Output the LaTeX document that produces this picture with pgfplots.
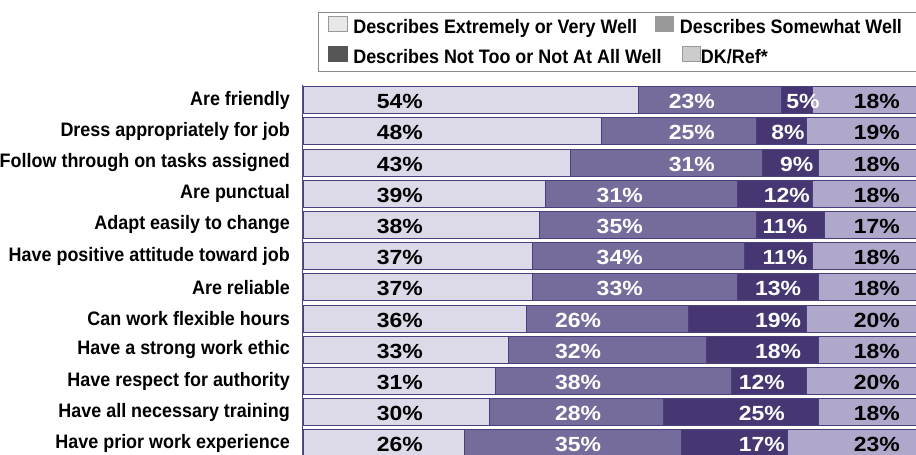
\documentclass[border=0pt]{standalone}
\usepackage{pgfplots}
\pgfplotsset{compat=1.18}
\usepackage{pgfplotstable}
\usepackage{fontspec}
\setmainfont{Liberation Sans}
\newfontfamily\pctfont{Liberation Sans}[FakeStretch=1.12]
\newfontfamily\catfont{Liberation Sans}[FakeStretch=0.92]
\definecolor{cA}{HTML}{DCDAE9}
\definecolor{cB}{HTML}{766C9B}
\definecolor{cC}{HTML}{463773}
\definecolor{cD}{HTML}{AFA8CB}
\definecolor{bordc}{HTML}{4B3E7D}
\definecolor{lgA}{HTML}{E8E8E8}
\definecolor{lgB}{HTML}{999999}
\definecolor{lgC}{HTML}{555555}
\definecolor{lgD}{HTML}{CCCCCC}
\definecolor{lgE}{HTML}{8A8A8A}

\pgfplotstableread{
y s1 s2 s3 s4 x1 x2 x3 x4
12 54 23 5 18 15.6 62.6 80.5 92.4
11 48 25 8 19 15.6 62.6 78.1 92.4
10 43 31 9 18 15.6 62.6 79.5 92.4
9 39 31 12 18 15.6 51.0 77.9 92.4
8 38 35 11 17 15.6 51.0 77.6 92.4
7 37 34 11 18 15.6 51.0 77.6 92.4
6 37 33 13 18 15.6 51.0 76.5 92.4
5 36 26 19 20 15.6 44.3 76.5 92.4
4 33 32 18 18 15.6 44.3 76.5 92.4
3 31 38 12 20 15.6 44.3 73.9 92.4
2 30 28 25 18 15.6 44.3 73.9 92.4
1 26 35 17 23 15.6 44.3 73.9 92.4
}\data

\pgfplotsset{
  base/.style={width=621pt, height=374.4pt, scale only axis,
    xmin=0, xmax=100, ymin=0.5, ymax=12.5,
    at={(303pt,-4pt)}, anchor=south west},
  lbl/.style={draw=none, mark=none, forget plot,
    point meta=explicit symbolic,
    nodes near coords={\pgfplotspointmeta\%},
    nodes near coords align={anchor=center},
    every node near coord/.append style={font=\pctfont\bfseries\fontsize{20.5pt}{22pt}\selectfont, text=#1, yshift=-1.5pt, inner sep=0pt}},
}

\begin{document}
\begin{tikzpicture}
\useasboundingbox (0pt,0pt) rectangle (916pt,455pt);
\begin{axis}[base,
  xbar stacked, bar width=27pt,
  hide x axis,
  axis y line*=left,
  y axis line style={draw=bordc, line width=1pt, -},
  ytick={1,...,12},
  yticklabels={Have prior work experience, Have all necessary training, Have respect for authority, Have a strong work ethic, Can work flexible hours, Are reliable, Have positive attitude toward job, Adapt easily to change, Are punctual, Follow through on tasks assigned, Dress appropriately for job, Are friendly},
  major tick length=0pt,
  yticklabel style={font=\catfont\bfseries\fontsize{19.5pt}{22pt}\selectfont, inner sep=0pt, xshift=-13pt},
  legend columns=2,
  legend cell align=left,
  legend style={at={(0,1)}, anchor=north west, xshift=15pt, yshift=72.6pt,
    draw=lgE, line width=1pt, inner xsep=10pt, inner ysep=3.5pt,
    font=\catfont\bfseries\fontsize{19.5pt}{22pt}\selectfont,
    nodes={text height=14pt, text depth=4pt, inner ysep=0pt, inner xsep=6pt},
    row sep=9pt,
    /tikz/every even column/.append style={column sep=12pt}},
]
\addplot[forget plot, fill=cA, draw=bordc, line width=0.8pt] table[x=s1, y=y]{\data};
\addplot[forget plot, fill=cB, draw=bordc, line width=0.8pt] table[x=s2, y=y]{\data};
\addplot[forget plot, fill=cC, draw=bordc, line width=0.8pt] table[x=s3, y=y]{\data};
\addplot[forget plot, fill=cD, draw=bordc, line width=0.8pt] table[x=s4, y=y]{\data};
\addlegendimage{legend image code/.code={\draw[fill=lgA, draw=lgB, line width=0.8pt] (0pt,-3pt) rectangle (18pt,12pt);}}
\addlegendentry{Describes Extremely or Very Well}
\addlegendimage{legend image code/.code={\draw[fill=lgB, draw=lgB, line width=0.8pt] (0pt,-3pt) rectangle (18pt,12pt);}}
\addlegendentry{\makebox[250pt][l]{Describes Somewhat Well}}
\addlegendimage{legend image code/.code={\draw[fill=lgC, draw=lgC, line width=0.8pt] (0pt,-3pt) rectangle (18pt,12pt);}}
\addlegendentry{\rlap{Describes Not Too or Not At All Well}\phantom{Describes Extremely or Very Well}}
\addlegendimage{legend image code/.code={\path[draw=none, fill=none] (0pt,-3pt) rectangle (18pt,12pt); \draw[overlay, fill=lgD, draw=lgB, line width=0.8pt, xshift=27pt] (0pt,-3pt) rectangle (18pt,12pt);}}
\addlegendentry{\hspace{21pt}DK/Ref*}
\end{axis}
\begin{axis}[base, hide axis, clip=false]
\addplot[lbl=black] table[x=x1, y=y, meta=s1]{\data};
\addplot[lbl=white] table[x=x2, y=y, meta=s2]{\data};
\addplot[lbl=white] table[x=x3, y=y, meta=s3]{\data};
\addplot[lbl=black] table[x=x4, y=y, meta=s4]{\data};
\end{axis}
\end{tikzpicture}
\end{document}
